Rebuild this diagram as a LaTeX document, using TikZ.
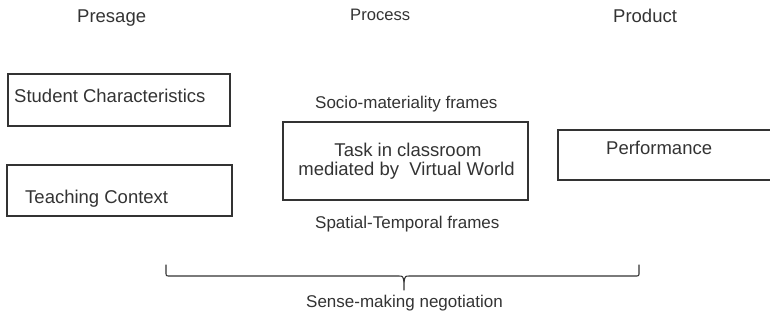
\documentclass[tikz,border=0pt]{standalone}
\usepackage{fontspec}
\setmainfont{Liberation Sans}
\definecolor{ink}{HTML}{333333}
\begin{document}
\begin{tikzpicture}[x=1pt,y=1pt,
  box/.style={draw=ink, line width=1.2pt, rectangle, inner sep=0pt},
  big/.style={text=ink, inner sep=0pt, font=\fontsize{18.5}{22}\selectfont},
  small/.style={text=ink, inner sep=0pt, font=\fontsize{17}{20}\selectfont},
  hdr/.style={text=ink, inner sep=0pt, font=\fontsize{18.5}{22}\selectfont}]
\useasboundingbox (0,0) rectangle (770,322);
\clip (0,0) rectangle (770,322);
% headers
\node[hdr, anchor=base west] (presage) at (77,299) {Presage};
\node[hdr, anchor=base west, font=\fontsize{16.6}{20}\selectfont] (process) at (350,301) {Process};
\node[hdr, anchor=base west] (product) at (613,299) {Product};
% boxes
\node[box, minimum width=222pt, minimum height=52pt] (sc) at (119,222) {};
\node[box, minimum width=225pt, minimum height=51pt] (tc) at (119.5,131.5) {};
\node[box, minimum width=245pt, minimum height=78pt] (task) at (405.5,161) {};
\node[box, minimum width=214pt, minimum height=50pt] (perf) at (665,167) {};
% box texts
\node[big, anchor=base west] (sctext) at (14,220) {Student Characteristics};
\node[big, anchor=base west] (tctext) at (25,119) {Teaching Context};
\node[big, anchor=base] (task1) at (408,166) {Task in classroom};
\node[big, anchor=base] (task2) at (406.5,147) {mediated by\ \ Virtual World};
\node[big, anchor=base west] (perftext) at (606,168) {Performance};
% frames
\node[small, anchor=base west] (socio) at (315,214) {Socio-materiality frames};
\node[small, anchor=base west] (spatial) at (315,94) {Spatial-Temporal frames};
% brace
\coordinate (bl) at (166,57);
\coordinate (br) at (639,57);
\coordinate (tip) at (404,32);
\draw[draw=ink, line width=1.1pt, line cap=round, line join=round]
  (bl) -- (166,50) .. controls (166,46) .. (170,46) -- (398,46)
  .. controls (403,46) .. (404,40) -- (tip);
\draw[draw=ink, line width=1.1pt, line cap=round, line join=round]
  (br) -- (639,50) .. controls (639,46) .. (635,46) -- (410,46)
  .. controls (405,46) .. (404,40);
\node[small, anchor=base west] (sense) at (306,15) {Sense-making negotiation};
\end{tikzpicture}
\end{document}
